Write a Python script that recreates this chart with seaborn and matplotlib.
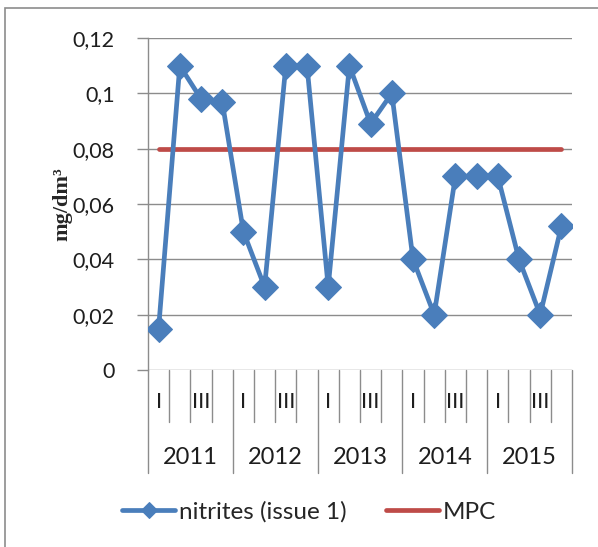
import numpy as np
import pandas as pd
import seaborn as sns
import matplotlib.pyplot as plt
from matplotlib.patches import Rectangle
from matplotlib.transforms import blended_transform_factory

# data
years = ["2011", "2012", "2013", "2014", "2015"]
quarters = ["I", "II", "III", "IV"]
nitrites = [0.015, 0.110, 0.098, 0.097,
            0.050, 0.030, 0.110, 0.110,
            0.030, 0.110, 0.089, 0.100,
            0.040, 0.020, 0.070, 0.070,
            0.070, 0.040, 0.020, 0.052]
mpc = [0.08] * 20
quarter_labels = ["I", "", "III", ""]
yticks = [0, 0.02, 0.04, 0.06, 0.08, 0.10, 0.12]
ytick_labels = ["0", "0,02", "0,04", "0,06", "0,08", "0,1", "0,12"]

df = pd.DataFrame({
    "pos": np.arange(len(nitrites)),
    "nitrites": nitrites,
    "mpc": mpc,
})

sns.set_style("white")
plt.rcParams['font.family'] = ['Lato', 'DejaVu Sans']

W, H = 598, 547
fig = plt.figure(figsize=(W / 100, H / 100), dpi=100)
ax = fig.add_axes([148 / W, 1 - 370 / H, (572 - 148) / W, (370 - 38) / H])

blue = "#4A7EBB"
red = "#BE4B48"
grey = "#8C8C8C"
txt = "#1E1E1E"

sns.lineplot(data=df, x="pos", y="nitrites", ax=ax, color=blue, lw=3.4,
             marker="D", markersize=13, markeredgecolor=blue,
             label="nitrites (issue 1)", zorder=4)
sns.lineplot(data=df, x="pos", y="mpc", ax=ax, color=red, lw=3.4,
             label="MPC", zorder=3)

ax.set_xlim(-0.5, len(nitrites) - 0.5)
ax.set_ylim(0, 0.12)
ax.set_yticks(yticks)
ax.set_yticklabels(ytick_labels, fontsize=15.5, color=txt)
ax.tick_params(axis="y", length=8, width=1, color=grey, pad=16, left=True)
ax.set_xticks([])
ax.set_xlabel("")
ax.set_ylabel("mg/dm³", fontsize=16, fontweight="bold", family="Liberation Serif")
ax.yaxis.set_label_coords(-0.178, 0.5)
ax.grid(axis="y", color=grey, lw=1)
for s in ["top", "right", "bottom"]:
    ax.spines[s].set_visible(False)
ax.spines["left"].set_color(grey)
ax.spines["left"].set_linewidth(1)

# category axis: quarter and year bands
tr = blended_transform_factory(ax.transData, fig.transFigure)
y0 = 1 - 370 / H
yq = 1 - 422 / H
yy = 1 - 473 / H
for i in range(len(nitrites) + 1):
    x = i - 0.5
    bottom = yy if i % 4 == 0 else yq
    ax.plot([x, x], [y0, bottom], transform=tr, color=grey, lw=1, clip_on=False)
for yi, yr in enumerate(years):
    for qi, q in enumerate(quarter_labels):
        if q:
            ax.text(yi * 4 + qi, 1 - 402 / H, q, transform=tr, ha="center",
                    va="center", fontsize=16, color=txt)
    ax.text(yi * 4 + 1.5, 1 - 457 / H, yr, transform=tr, ha="center",
            va="center", fontsize=17, color=txt)

ax.get_legend().remove()
handles, labels = ax.get_legend_handles_labels()
fig.legend(handles, labels, loc="center", ncol=2, frameon=False,
           bbox_to_anchor=(309 / W, 1 - 512 / H), fontsize=17.5,
           handlelength=2.2, columnspacing=1.6, handletextpad=0.15,
           markerscale=0.65)

fig.patches.append(Rectangle((5 / W, -0.1), 1.2, 1 - 8 / H + 0.1,
                             transform=fig.transFigure, fill=False,
                             edgecolor="#8C8C8C", lw=1.2))

fig.savefig("out.png", dpi=100)
